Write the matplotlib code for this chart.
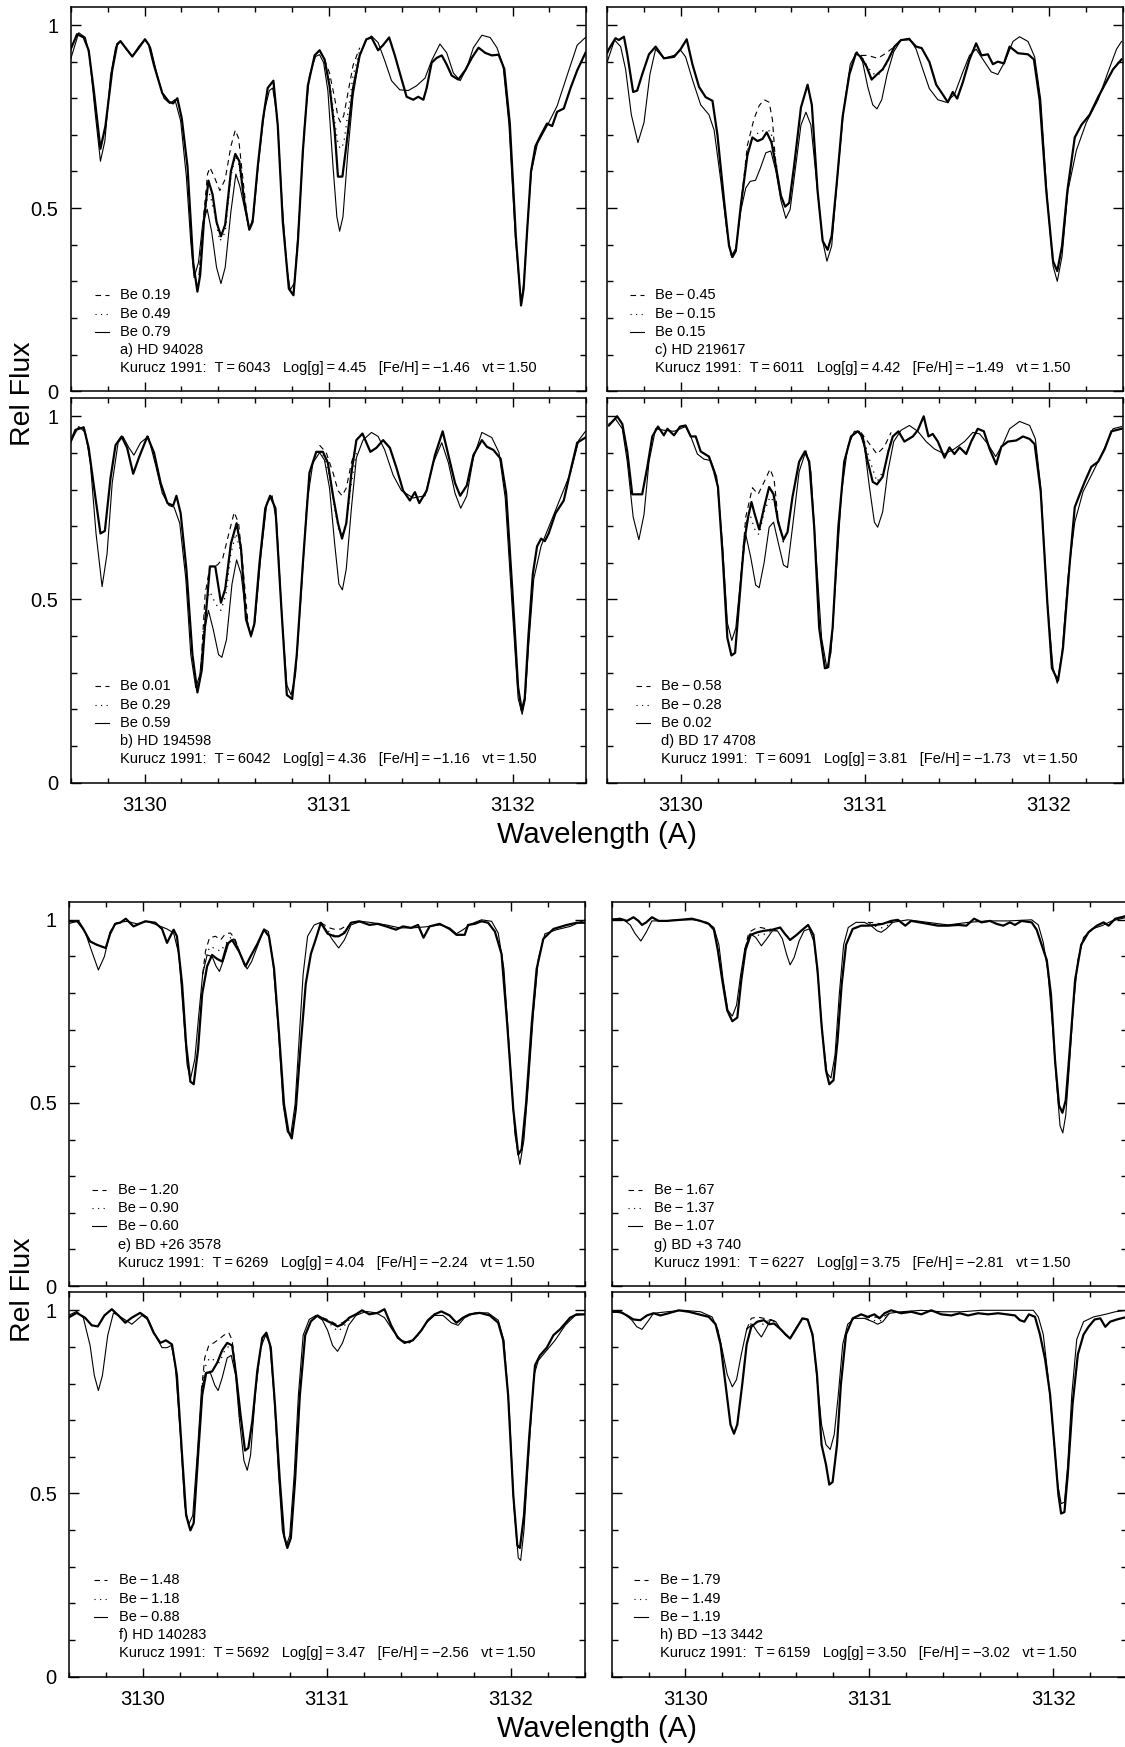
import matplotlib
matplotlib.use('Agg')
import matplotlib.pyplot as plt
from matplotlib.ticker import MultipleLocator, FixedLocator, FuncFormatter

plt.rcParams['font.family'] = ['Liberation Sans', 'DejaVu Sans']

# ---------------- data ----------------
PANELS = ['a', 'b', 'c', 'd', 'e', 'f', 'g', 'h']
STARS = {'a': 'HD 94028', 'b': 'HD 194598', 'c': 'HD 219617', 'd': 'BD 17 4708',
         'e': 'BD +26 3578', 'f': 'HD 140283', 'g': 'BD +3 740', 'h': 'BD \u221213 3442'}
BE = {'a': [0.19, 0.49, 0.79], 'b': [0.01, 0.29, 0.59], 'c': [-0.45, -0.15, 0.15],
      'd': [-0.58, -0.28, 0.02], 'e': [-1.20, -0.90, -0.60], 'f': [-1.48, -1.18, -0.88],
      'g': [-1.67, -1.37, -1.07], 'h': [-1.79, -1.49, -1.19]}
TEFF = {'a': 6043, 'b': 6042, 'c': 6011, 'd': 6091, 'e': 6269, 'f': 5692, 'g': 6227, 'h': 6159}
LOGG = {'a': 4.45, 'b': 4.36, 'c': 4.42, 'd': 3.81, 'e': 4.04, 'f': 3.47, 'g': 3.75, 'h': 3.50}
FEH = {'a': -1.46, 'b': -1.16, 'c': -1.49, 'd': -1.73, 'e': -2.24, 'f': -2.56, 'g': -2.81, 'h': -3.02}
VT = 1.50
X_TICKS = [3130, 3131, 3132]
Y_TICKS = [0, 0.5, 1]

# observed (thick) and synthetic (thin, highest Be) spectra: (wavelength, rel flux)
A_OBS = [(3129.596,0.931),(3129.633,0.975),(3129.669,0.966),(3129.696,0.931),(3129.724,0.821),(3129.760,0.662),(3129.787,0.724),(3129.824,0.876),(3129.851,0.948),(3129.869,0.956),(3129.896,0.938),(3129.933,0.914),(3129.969,0.938),(3130.002,0.961),(3130.024,0.945),(3130.051,0.890),(3130.096,0.814),(3130.133,0.790),(3130.155,0.786),(3130.178,0.800),(3130.202,0.745),(3130.233,0.614),(3130.264,0.352),(3130.287,0.272),(3130.302,0.317),(3130.324,0.476),(3130.347,0.575),(3130.369,0.538),(3130.391,0.462),(3130.415,0.423),(3130.438,0.455),(3130.469,0.600),(3130.493,0.648),(3130.515,0.628),(3130.542,0.517),(3130.569,0.441),(3130.587,0.462),(3130.615,0.614),(3130.642,0.738),(3130.669,0.828),(3130.700,0.848),(3130.724,0.724),(3130.751,0.462),(3130.784,0.280),(3130.809,0.262),(3130.833,0.407),(3130.860,0.655),(3130.887,0.834),(3130.924,0.917),(3130.951,0.931),(3130.978,0.906),(3131.005,0.834),(3131.033,0.710),(3131.051,0.586),(3131.075,0.586),(3131.096,0.669),(3131.133,0.828),(3131.169,0.917),(3131.205,0.961),(3131.233,0.966),(3131.269,0.931),(3131.296,0.945),(3131.329,0.966),(3131.360,0.917),(3131.387,0.869),(3131.424,0.804),(3131.460,0.796),(3131.487,0.804),(3131.515,0.796),(3131.533,0.828),(3131.560,0.897),(3131.587,0.910),(3131.615,0.917),(3131.642,0.892),(3131.669,0.862),(3131.705,0.851),(3131.742,0.876),(3131.778,0.910),(3131.815,0.938),(3131.851,0.924),(3131.887,0.917),(3131.924,0.919),(3131.955,0.880),(3131.985,0.730),(3132.018,0.420),(3132.046,0.234),(3132.060,0.280),(3132.078,0.430),(3132.100,0.600),(3132.124,0.669),(3132.151,0.697),(3132.187,0.731),(3132.215,0.724),(3132.242,0.763),(3132.278,0.772),(3132.315,0.828),(3132.351,0.876),(3132.396,0.924)]
A_SYN = [(3129.596,0.903),(3129.642,0.979),(3129.678,0.966),(3129.700,0.917),(3129.733,0.752),(3129.760,0.628),(3129.784,0.683),(3129.815,0.862),(3129.842,0.938),(3129.869,0.956),(3129.905,0.931),(3129.933,0.914),(3129.969,0.942),(3130.002,0.961),(3130.033,0.938),(3130.069,0.862),(3130.105,0.800),(3130.136,0.786),(3130.165,0.796),(3130.196,0.738),(3130.227,0.586),(3130.251,0.407),(3130.269,0.310),(3130.293,0.352),(3130.315,0.455),(3130.340,0.497),(3130.365,0.434),(3130.391,0.338),(3130.415,0.294),(3130.438,0.338),(3130.469,0.490),(3130.496,0.593),(3130.518,0.559),(3130.542,0.503),(3130.569,0.441),(3130.591,0.476),(3130.620,0.628),(3130.651,0.766),(3130.678,0.821),(3130.696,0.828),(3130.720,0.752),(3130.747,0.517),(3130.773,0.338),(3130.791,0.276),(3130.815,0.297),(3130.842,0.490),(3130.869,0.724),(3130.896,0.862),(3130.929,0.914),(3130.951,0.919),(3130.973,0.897),(3130.996,0.821),(3131.024,0.614),(3131.045,0.476),(3131.060,0.437),(3131.078,0.476),(3131.105,0.655),(3131.133,0.807),(3131.169,0.917),(3131.205,0.959),(3131.233,0.970),(3131.269,0.952),(3131.305,0.903),(3131.342,0.848),(3131.387,0.823),(3131.433,0.821),(3131.478,0.834),(3131.524,0.855),(3131.560,0.903),(3131.605,0.948),(3131.642,0.924),(3131.678,0.869),(3131.715,0.848),(3131.751,0.883),(3131.787,0.938),(3131.833,0.972),(3131.878,0.966),(3131.915,0.938),(3131.948,0.890),(3131.980,0.730),(3132.015,0.420),(3132.046,0.241),(3132.062,0.300),(3132.080,0.450),(3132.102,0.600),(3132.135,0.676),(3132.187,0.724),(3132.242,0.779),(3132.296,0.862),(3132.351,0.945),(3132.396,0.966)]
A_DASH1 = [(3130.296,0.317),(3130.318,0.462),(3130.342,0.593),(3130.355,0.611),(3130.378,0.586),(3130.409,0.548),(3130.438,0.579),(3130.469,0.669),(3130.493,0.713),(3130.511,0.690),(3130.533,0.586),(3130.560,0.462),(3130.569,0.441)]
A_DOT1 = [(3130.296,0.317),(3130.318,0.448),(3130.342,0.531),(3130.355,0.538),(3130.378,0.490),(3130.409,0.410),(3130.438,0.434),(3130.469,0.586),(3130.493,0.641),(3130.511,0.621),(3130.533,0.545),(3130.560,0.462),(3130.569,0.441)]
A_DASH2 = [(3130.978,0.906),(3131.005,0.869),(3131.033,0.800),(3131.051,0.749),(3131.064,0.735),(3131.082,0.752),(3131.105,0.814),(3131.133,0.890),(3131.169,0.938)]
A_DOT2 = [(3130.978,0.903),(3131.005,0.848),(3131.033,0.738),(3131.051,0.676),(3131.064,0.662),(3131.082,0.676),(3131.105,0.759),(3131.133,0.862),(3131.169,0.931)]

B_OBS = [(3129.596,0.928),(3129.624,0.963),(3129.669,0.970),(3129.696,0.914),(3129.733,0.777),(3129.760,0.680),(3129.784,0.687),(3129.815,0.832),(3129.842,0.921),(3129.875,0.945),(3129.905,0.914),(3129.938,0.843),(3129.969,0.887),(3130.015,0.945),(3130.051,0.901),(3130.087,0.818),(3130.124,0.763),(3130.155,0.756),(3130.173,0.783),(3130.196,0.735),(3130.227,0.583),(3130.260,0.349),(3130.287,0.246),(3130.311,0.308),(3130.333,0.459),(3130.355,0.590),(3130.384,0.590),(3130.415,0.491),(3130.438,0.528),(3130.469,0.652),(3130.500,0.708),(3130.524,0.639),(3130.551,0.446),(3130.578,0.401),(3130.596,0.432),(3130.624,0.597),(3130.656,0.749),(3130.682,0.783),(3130.711,0.749),(3130.742,0.487),(3130.773,0.239),(3130.802,0.228),(3130.827,0.349),(3130.860,0.597),(3130.896,0.846),(3130.933,0.903),(3130.969,0.903),(3130.996,0.873),(3131.024,0.783),(3131.051,0.708),(3131.073,0.666),(3131.096,0.708),(3131.124,0.846),(3131.151,0.935),(3131.184,0.953),(3131.227,0.903),(3131.260,0.914),(3131.296,0.935),(3131.333,0.914),(3131.369,0.859),(3131.405,0.797),(3131.442,0.770),(3131.469,0.793),(3131.493,0.763),(3131.533,0.797),(3131.578,0.894),(3131.620,0.959),(3131.651,0.894),(3131.687,0.818),(3131.715,0.783),(3131.751,0.811),(3131.787,0.894),(3131.833,0.935),(3131.860,0.917),(3131.896,0.908),(3131.935,0.884),(3131.965,0.790),(3131.998,0.530),(3132.030,0.260),(3132.050,0.197),(3132.066,0.230),(3132.086,0.400),(3132.110,0.570),(3132.133,0.645),(3132.155,0.666),(3132.175,0.659),(3132.196,0.680),(3132.233,0.735),(3132.278,0.770),(3132.315,0.852),(3132.351,0.928),(3132.396,0.942)]
B_SYN = [(3129.596,0.928),(3129.642,0.972),(3129.678,0.956),(3129.705,0.873),(3129.736,0.680),(3129.769,0.535),(3129.796,0.625),(3129.824,0.818),(3129.856,0.928),(3129.882,0.945),(3129.915,0.914),(3129.942,0.894),(3129.978,0.928),(3130.020,0.945),(3130.060,0.866),(3130.096,0.790),(3130.133,0.756),(3130.160,0.752),(3130.191,0.708),(3130.224,0.556),(3130.251,0.349),(3130.278,0.259),(3130.300,0.294),(3130.324,0.411),(3130.347,0.470),(3130.373,0.418),(3130.402,0.349),(3130.420,0.342),(3130.445,0.390),(3130.475,0.542),(3130.500,0.608),(3130.524,0.570),(3130.551,0.459),(3130.578,0.397),(3130.600,0.439),(3130.633,0.625),(3130.664,0.763),(3130.693,0.783),(3130.718,0.708),(3130.747,0.446),(3130.773,0.266),(3130.796,0.239),(3130.820,0.294),(3130.851,0.514),(3130.882,0.763),(3130.915,0.873),(3130.951,0.901),(3130.978,0.880),(3131.005,0.804),(3131.033,0.652),(3131.056,0.542),(3131.075,0.526),(3131.096,0.583),(3131.124,0.749),(3131.151,0.887),(3131.187,0.935),(3131.233,0.956),(3131.269,0.945),(3131.305,0.908),(3131.351,0.839),(3131.396,0.797),(3131.460,0.777),(3131.524,0.783),(3131.569,0.873),(3131.615,0.928),(3131.651,0.873),(3131.687,0.790),(3131.718,0.749),(3131.751,0.783),(3131.787,0.887),(3131.833,0.956),(3131.887,0.942),(3131.926,0.901),(3131.960,0.777),(3131.995,0.500),(3132.030,0.230),(3132.052,0.186),(3132.068,0.225),(3132.088,0.380),(3132.115,0.556),(3132.155,0.646),(3132.205,0.708),(3132.260,0.777),(3132.315,0.846),(3132.360,0.935),(3132.396,0.959)]
B_DASH1 = [(3130.305,0.308),(3130.329,0.514),(3130.355,0.590),(3130.396,0.594),(3130.424,0.611),(3130.451,0.666),(3130.487,0.738),(3130.511,0.708),(3130.533,0.597),(3130.560,0.446)]
B_DOT1 = [(3130.305,0.308),(3130.329,0.487),(3130.355,0.521),(3130.387,0.487),(3130.415,0.470),(3130.442,0.514),(3130.469,0.625),(3130.496,0.680),(3130.524,0.625),(3130.551,0.452)]
B_DASH2 = [(3130.951,0.921),(3130.987,0.901),(3131.024,0.846),(3131.051,0.797),(3131.073,0.783),(3131.096,0.804),(3131.124,0.873),(3131.151,0.921)]
B_DOT2 = [(3130.969,0.894),(3131.005,0.839),(3131.033,0.749),(3131.056,0.687),(3131.075,0.680),(3131.096,0.708),(3131.124,0.818),(3131.151,0.901)]

C_OBS = [(3129.600,0.925),(3129.608,0.934),(3129.644,0.964),(3129.662,0.959),(3129.690,0.968),(3129.708,0.920),(3129.740,0.817),(3129.762,0.821),(3129.789,0.865),(3129.826,0.920),(3129.862,0.941),(3129.907,0.909),(3129.962,0.913),(3129.998,0.934),(3130.031,0.961),(3130.062,0.893),(3130.098,0.831),(3130.134,0.803),(3130.171,0.793),(3130.198,0.700),(3130.234,0.521),(3130.261,0.397),(3130.279,0.366),(3130.298,0.383),(3130.325,0.507),(3130.361,0.645),(3130.388,0.693),(3130.416,0.683),(3130.443,0.689),(3130.466,0.707),(3130.492,0.679),(3130.515,0.617),(3130.543,0.534),(3130.566,0.504),(3130.588,0.514),(3130.615,0.617),(3130.652,0.775),(3130.688,0.837),(3130.711,0.782),(3130.742,0.548),(3130.770,0.410),(3130.797,0.386),(3130.819,0.424),(3130.848,0.576),(3130.878,0.748),(3130.915,0.865),(3130.951,0.923),(3130.978,0.913),(3131.009,0.886),(3131.036,0.851),(3131.065,0.865),(3131.096,0.879),(3131.127,0.906),(3131.160,0.941),(3131.196,0.959),(3131.241,0.961),(3131.278,0.941),(3131.308,0.937),(3131.350,0.899),(3131.387,0.837),(3131.423,0.810),(3131.450,0.789),(3131.477,0.817),(3131.501,0.799),(3131.532,0.844),(3131.568,0.906),(3131.604,0.950),(3131.633,0.917),(3131.668,0.920),(3131.695,0.893),(3131.722,0.900),(3131.755,0.895),(3131.786,0.941),(3131.831,0.923),(3131.886,0.920),(3131.918,0.906),(3131.949,0.796),(3131.985,0.548),(3132.022,0.355),(3132.045,0.328),(3132.071,0.397),(3132.100,0.548),(3132.140,0.693),(3132.176,0.727),(3132.221,0.755),(3132.267,0.803),(3132.303,0.837),(3132.348,0.879),(3132.394,0.906)]
C_SYN = [(3129.600,0.900),(3129.608,0.913),(3129.639,0.959),(3129.672,0.941),(3129.699,0.879),(3129.730,0.755),(3129.766,0.679),(3129.799,0.734),(3129.831,0.865),(3129.862,0.934),(3129.907,0.909),(3129.962,0.917),(3129.998,0.931),(3130.025,0.913),(3130.062,0.851),(3130.107,0.782),(3130.152,0.755),(3130.180,0.713),(3130.216,0.576),(3130.249,0.438),(3130.274,0.369),(3130.298,0.390),(3130.325,0.493),(3130.352,0.555),(3130.376,0.573),(3130.405,0.576),(3130.432,0.610),(3130.461,0.651),(3130.488,0.656),(3130.515,0.603),(3130.543,0.521),(3130.570,0.472),(3130.593,0.496),(3130.624,0.617),(3130.652,0.727),(3130.679,0.762),(3130.706,0.727),(3130.739,0.562),(3130.770,0.410),(3130.793,0.355),(3130.819,0.397),(3130.851,0.590),(3130.884,0.769),(3130.920,0.893),(3130.956,0.927),(3130.987,0.899),(3131.015,0.831),(3131.042,0.782),(3131.065,0.771),(3131.091,0.796),(3131.120,0.865),(3131.156,0.927),(3131.196,0.959),(3131.241,0.964),(3131.278,0.934),(3131.314,0.879),(3131.350,0.826),(3131.396,0.796),(3131.441,0.789),(3131.486,0.810),(3131.532,0.872),(3131.568,0.917),(3131.604,0.934),(3131.641,0.906),(3131.686,0.872),(3131.722,0.865),(3131.759,0.899),(3131.804,0.955),(3131.840,0.968),(3131.886,0.955),(3131.922,0.913),(3131.955,0.796),(3131.991,0.521),(3132.022,0.342),(3132.045,0.300),(3132.071,0.369),(3132.103,0.548),(3132.149,0.658),(3132.203,0.734),(3132.267,0.796),(3132.321,0.872),(3132.367,0.934),(3132.394,0.955)]
C_DASH1 = [(3130.325,0.507),(3130.361,0.672),(3130.397,0.744),(3130.425,0.780),(3130.452,0.796),(3130.479,0.789),(3130.497,0.741),(3130.515,0.617)]
C_DOT1 = [(3130.325,0.507),(3130.361,0.658),(3130.394,0.693),(3130.430,0.711),(3130.461,0.711),(3130.488,0.711),(3130.506,0.658),(3130.524,0.603)]
C_DASH2 = [(3130.978,0.917),(3131.015,0.917),(3131.069,0.909),(3131.114,0.923),(3131.160,0.941)]
C_DOT2 = [(3130.987,0.909),(3131.015,0.886),(3131.042,0.868),(3131.069,0.862),(3131.105,0.882),(3131.142,0.920)]

D_OBS = [(3129.608,0.975),(3129.653,1.000),(3129.681,0.979),(3129.708,0.904),(3129.735,0.787),(3129.753,0.787),(3129.789,0.787),(3129.817,0.862),(3129.844,0.945),(3129.875,0.972),(3129.907,0.948),(3129.926,0.966),(3129.962,0.948),(3129.995,0.972),(3130.025,0.975),(3130.053,0.945),(3130.080,0.945),(3130.107,0.904),(3130.152,0.890),(3130.180,0.849),(3130.201,0.807),(3130.225,0.629),(3130.252,0.395),(3130.274,0.347),(3130.294,0.354),(3130.316,0.491),(3130.343,0.656),(3130.365,0.725),(3130.383,0.766),(3130.401,0.732),(3130.425,0.691),(3130.452,0.752),(3130.479,0.807),(3130.503,0.787),(3130.528,0.711),(3130.557,0.663),(3130.579,0.684),(3130.606,0.780),(3130.642,0.876),(3130.673,0.904),(3130.697,0.876),(3130.724,0.697),(3130.751,0.422),(3130.782,0.312),(3130.800,0.315),(3130.824,0.422),(3130.855,0.697),(3130.887,0.876),(3130.924,0.945),(3130.960,0.959),(3130.987,0.945),(3131.015,0.876),(3131.042,0.821),(3131.065,0.814),(3131.096,0.835),(3131.127,0.904),(3131.151,0.945),(3131.182,0.959),(3131.214,0.931),(3131.260,0.945),(3131.287,0.962),(3131.319,1.000),(3131.345,0.945),(3131.368,0.952),(3131.396,0.931),(3131.432,0.887),(3131.459,0.915),(3131.486,0.897),(3131.514,0.915),(3131.550,0.897),(3131.577,0.931),(3131.613,0.966),(3131.646,0.959),(3131.677,0.911),(3131.713,0.869),(3131.741,0.917),(3131.777,0.931),(3131.822,0.934),(3131.859,0.945),(3131.895,0.938),(3131.922,0.924),(3131.955,0.794),(3131.991,0.491),(3132.016,0.312),(3132.049,0.278),(3132.076,0.367),(3132.113,0.601),(3132.140,0.752),(3132.167,0.787),(3132.194,0.821),(3132.230,0.862),(3132.267,0.876),(3132.303,0.911),(3132.339,0.959),(3132.394,0.966)]
D_SYN = [(3129.608,0.979),(3129.644,0.993),(3129.681,0.966),(3129.708,0.876),(3129.740,0.725),(3129.771,0.663),(3129.799,0.732),(3129.826,0.876),(3129.862,0.966),(3129.907,0.962),(3129.962,0.959),(3130.025,0.972),(3130.053,0.945),(3130.089,0.897),(3130.125,0.883),(3130.162,0.879),(3130.194,0.835),(3130.225,0.656),(3130.252,0.436),(3130.276,0.388),(3130.298,0.422),(3130.325,0.560),(3130.352,0.677),(3130.379,0.615),(3130.406,0.539),(3130.425,0.532),(3130.452,0.601),(3130.479,0.697),(3130.503,0.711),(3130.528,0.656),(3130.557,0.594),(3130.579,0.587),(3130.606,0.697),(3130.642,0.849),(3130.679,0.906),(3130.706,0.849),(3130.733,0.629),(3130.764,0.395),(3130.793,0.312),(3130.815,0.354),(3130.842,0.560),(3130.873,0.794),(3130.906,0.917),(3130.942,0.959),(3130.969,0.959),(3130.997,0.917),(3131.024,0.807),(3131.051,0.711),(3131.069,0.697),(3131.096,0.739),(3131.124,0.849),(3131.156,0.931),(3131.196,0.962),(3131.241,0.975),(3131.287,0.959),(3131.332,0.931),(3131.377,0.911),(3131.432,0.897),(3131.486,0.911),(3131.541,0.931),(3131.586,0.956),(3131.623,0.952),(3131.668,0.924),(3131.710,0.890),(3131.750,0.924),(3131.786,0.966),(3131.840,0.986),(3131.895,0.975),(3131.926,0.938),(3131.955,0.807),(3131.991,0.491),(3132.022,0.312),(3132.045,0.271),(3132.071,0.354),(3132.103,0.560),(3132.140,0.711),(3132.185,0.794),(3132.240,0.849),(3132.294,0.904),(3132.348,0.966),(3132.394,0.972)]
D_DASH1 = [(3130.325,0.560),(3130.352,0.725),(3130.388,0.805),(3130.419,0.787),(3130.452,0.821),(3130.484,0.856),(3130.506,0.828),(3130.528,0.718),(3130.557,0.656)]
D_DOT1 = [(3130.325,0.560),(3130.352,0.711),(3130.379,0.725),(3130.406,0.684),(3130.425,0.677),(3130.452,0.739),(3130.484,0.780),(3130.506,0.766),(3130.534,0.697),(3130.557,0.656)]
D_DASH2 = [(3130.978,0.956),(3131.015,0.931),(3131.065,0.897),(3131.105,0.917),(3131.142,0.956)]
D_DOT2 = [(3130.997,0.931),(3131.024,0.883),(3131.065,0.821),(3131.105,0.856),(3131.138,0.931)]

E_OBS = [(3129.595,0.996),(3129.649,0.996),(3129.676,0.975),(3129.713,0.941),(3129.749,0.932),(3129.798,0.923),(3129.822,0.962),(3129.849,0.989),(3129.876,0.992),(3129.907,1.003),(3129.949,0.982),(3130.013,0.996),(3130.067,0.992),(3130.104,0.975),(3130.131,0.937),(3130.167,0.973),(3130.185,0.955),(3130.213,0.825),(3130.235,0.660),(3130.258,0.558),(3130.276,0.551),(3130.300,0.647),(3130.322,0.797),(3130.349,0.873),(3130.376,0.904),(3130.404,0.893),(3130.431,0.886),(3130.458,0.934),(3130.485,0.945),(3130.522,0.914),(3130.558,0.873),(3130.585,0.900),(3130.622,0.934),(3130.658,0.973),(3130.685,0.955),(3130.713,0.866),(3130.740,0.688),(3130.767,0.496),(3130.791,0.421),(3130.809,0.403),(3130.831,0.482),(3130.858,0.660),(3130.885,0.825),(3130.913,0.907),(3130.940,0.948),(3130.967,0.992),(3131.004,0.962),(3131.040,0.955),(3131.064,0.955),(3131.095,0.964),(3131.131,0.992),(3131.176,0.996),(3131.231,0.986),(3131.276,0.989),(3131.322,0.982),(3131.376,0.973),(3131.413,0.982),(3131.458,0.978),(3131.495,0.986),(3131.525,0.951),(3131.558,0.982),(3131.613,0.989),(3131.667,0.975),(3131.704,0.959),(3131.749,0.959),(3131.767,0.986),(3131.804,0.989),(3131.840,0.996),(3131.876,0.992),(3131.913,0.968),(3131.949,0.907),(3131.980,0.715),(3132.013,0.482),(3132.040,0.359),(3132.058,0.373),(3132.082,0.496),(3132.113,0.715),(3132.140,0.866),(3132.176,0.948),(3132.231,0.975),(3132.304,0.986),(3132.358,0.992),(3132.404,0.992)]
E_SYN = [(3129.595,0.989),(3129.640,0.996),(3129.685,0.968),(3129.722,0.914),(3129.758,0.863),(3129.791,0.900),(3129.822,0.968),(3129.858,0.992),(3129.913,0.996),(3129.967,0.989),(3130.022,0.996),(3130.076,0.986),(3130.131,0.975),(3130.167,0.964),(3130.195,0.907),(3130.216,0.770),(3130.240,0.605),(3130.258,0.564),(3130.282,0.619),(3130.304,0.742),(3130.325,0.852),(3130.349,0.904),(3130.376,0.900),(3130.398,0.873),(3130.416,0.859),(3130.440,0.893),(3130.467,0.937),(3130.495,0.948),(3130.522,0.918),(3130.549,0.879),(3130.567,0.866),(3130.591,0.886),(3130.622,0.927),(3130.658,0.975),(3130.682,0.968),(3130.707,0.886),(3130.736,0.701),(3130.762,0.496),(3130.785,0.421),(3130.804,0.414),(3130.827,0.496),(3130.849,0.674),(3130.871,0.852),(3130.895,0.955),(3130.931,0.986),(3130.962,0.992),(3130.995,0.973),(3131.031,0.945),(3131.064,0.923),(3131.095,0.945),(3131.131,0.986),(3131.185,0.996),(3131.249,0.992),(3131.322,0.986),(3131.395,0.978),(3131.467,0.978),(3131.540,0.981),(3131.613,0.986),(3131.667,0.978),(3131.704,0.962),(3131.740,0.973),(3131.785,0.989),(3131.840,1.000),(3131.895,0.996),(3131.931,0.964),(3131.962,0.866),(3131.995,0.619),(3132.022,0.414),(3132.049,0.332),(3132.071,0.400),(3132.095,0.551),(3132.122,0.742),(3132.149,0.893),(3132.185,0.962),(3132.249,0.973),(3132.322,0.982),(3132.404,1.000)]
E_DASH1 = [(3130.325,0.852),(3130.340,0.914),(3130.362,0.951),(3130.395,0.955),(3130.422,0.945),(3130.449,0.962),(3130.476,0.964),(3130.500,0.948),(3130.522,0.918)]
E_DOT1 = [(3130.325,0.852),(3130.344,0.907),(3130.367,0.927),(3130.395,0.921),(3130.422,0.914),(3130.449,0.934),(3130.476,0.951),(3130.500,0.945),(3130.522,0.918)]
E_DASH2 = [(3130.967,0.992),(3131.013,0.978),(3131.049,0.973),(3131.076,0.975),(3131.113,0.986)]
E_DOT2 = [(3130.985,0.982),(3131.022,0.962),(3131.058,0.953),(3131.085,0.962),(3131.122,0.986)]

F_OBS = [(3129.595,0.980),(3129.640,0.993),(3129.685,0.980),(3129.722,0.959),(3129.755,0.956),(3129.791,0.986),(3129.831,1.003),(3129.867,0.986),(3129.904,0.966),(3129.940,0.980),(3129.985,0.993),(3130.022,0.980),(3130.058,0.939),(3130.095,0.911),(3130.125,0.918),(3130.158,0.907),(3130.185,0.822),(3130.213,0.604),(3130.235,0.440),(3130.258,0.399),(3130.276,0.419),(3130.300,0.604),(3130.322,0.768),(3130.344,0.829),(3130.376,0.833),(3130.404,0.857),(3130.431,0.891),(3130.458,0.911),(3130.485,0.904),(3130.507,0.822),(3130.531,0.713),(3130.555,0.617),(3130.573,0.624),(3130.595,0.699),(3130.622,0.836),(3130.649,0.925),(3130.671,0.939),(3130.695,0.898),(3130.718,0.740),(3130.744,0.536),(3130.767,0.385),(3130.785,0.351),(3130.804,0.378),(3130.827,0.536),(3130.853,0.768),(3130.882,0.932),(3130.913,0.970),(3130.949,0.986),(3130.985,0.975),(3131.022,0.966),(3131.058,0.956),(3131.085,0.962),(3131.122,0.980),(3131.158,0.989),(3131.191,1.000),(3131.231,0.989),(3131.276,0.993),(3131.313,1.003),(3131.349,0.959),(3131.385,0.925),(3131.422,0.911),(3131.467,0.918),(3131.513,0.945),(3131.549,0.973),(3131.585,0.989),(3131.622,0.997),(3131.667,0.986),(3131.704,0.966),(3131.740,0.980),(3131.776,0.989),(3131.831,0.993),(3131.885,0.986),(3131.931,0.966),(3131.958,0.918),(3131.985,0.768),(3132.013,0.495),(3132.035,0.358),(3132.049,0.351),(3132.071,0.440),(3132.100,0.658),(3132.131,0.850),(3132.158,0.877),(3132.195,0.898),(3132.231,0.932),(3132.267,0.948),(3132.322,0.980),(3132.358,0.989),(3132.404,0.989)]
F_SYN = [(3129.595,0.986),(3129.640,0.997),(3129.676,0.980),(3129.713,0.904),(3129.736,0.822),(3129.758,0.781),(3129.780,0.822),(3129.809,0.932),(3129.840,0.993),(3129.885,0.980),(3129.940,0.962),(3129.995,0.986),(3130.031,0.973),(3130.067,0.932),(3130.104,0.898),(3130.131,0.898),(3130.155,0.904),(3130.176,0.850),(3130.204,0.658),(3130.227,0.467),(3130.249,0.415),(3130.271,0.440),(3130.295,0.604),(3130.318,0.781),(3130.340,0.829),(3130.367,0.829),(3130.391,0.795),(3130.409,0.781),(3130.431,0.816),(3130.458,0.870),(3130.480,0.877),(3130.504,0.822),(3130.525,0.699),(3130.549,0.590),(3130.567,0.563),(3130.585,0.604),(3130.613,0.781),(3130.640,0.898),(3130.667,0.932),(3130.689,0.911),(3130.713,0.768),(3130.736,0.563),(3130.758,0.399),(3130.780,0.358),(3130.798,0.385),(3130.822,0.549),(3130.845,0.768),(3130.871,0.932),(3130.904,0.975),(3130.940,0.986),(3130.976,0.973),(3131.004,0.945),(3131.031,0.904),(3131.058,0.888),(3131.085,0.911),(3131.118,0.959),(3131.158,0.986),(3131.213,0.997),(3131.267,0.993),(3131.313,0.980),(3131.358,0.945),(3131.404,0.918),(3131.449,0.911),(3131.495,0.932),(3131.540,0.966),(3131.585,0.986),(3131.631,0.986),(3131.676,0.966),(3131.713,0.959),(3131.749,0.980),(3131.804,0.993),(3131.876,0.993),(3131.931,0.973),(3131.962,0.918),(3131.991,0.727),(3132.016,0.467),(3132.040,0.324),(3132.053,0.317),(3132.071,0.399),(3132.100,0.631),(3132.125,0.822),(3132.149,0.863),(3132.195,0.891),(3132.240,0.918),(3132.295,0.959),(3132.349,0.986),(3132.404,0.989)]
F_DASH1 = [(3130.318,0.781),(3130.336,0.870),(3130.358,0.904),(3130.385,0.911),(3130.413,0.921),(3130.440,0.932),(3130.467,0.939),(3130.485,0.918),(3130.504,0.836),(3130.525,0.713)]
F_DOT1 = [(3130.318,0.781),(3130.336,0.843),(3130.362,0.870),(3130.391,0.863),(3130.416,0.857),(3130.445,0.891),(3130.471,0.904),(3130.489,0.898),(3130.507,0.829),(3130.525,0.706)]
F_DASH2 = [(3130.976,0.980),(3131.013,0.973),(3131.049,0.962),(3131.085,0.966),(3131.122,0.980)]
F_DOT2 = [(3130.995,0.973),(3131.031,0.956),(3131.058,0.943),(3131.085,0.952),(3131.122,0.975)]

G_OBS = [(3129.600,1.000),(3129.645,1.003),(3129.682,0.997),(3129.718,1.007),(3129.745,0.997),(3129.764,0.986),(3129.787,0.993),(3129.818,1.007),(3129.855,0.997),(3129.900,0.997),(3129.973,1.000),(3130.036,1.003),(3130.082,0.997),(3130.127,0.989),(3130.155,0.973),(3130.176,0.918),(3130.200,0.836),(3130.227,0.753),(3130.255,0.723),(3130.282,0.733),(3130.304,0.836),(3130.327,0.918),(3130.355,0.959),(3130.391,0.966),(3130.427,0.970),(3130.473,0.973),(3130.515,0.979),(3130.540,0.962),(3130.569,0.945),(3130.605,0.959),(3130.636,0.973),(3130.667,0.986),(3130.696,0.959),(3130.718,0.863),(3130.740,0.712),(3130.764,0.589),(3130.782,0.551),(3130.805,0.562),(3130.827,0.671),(3130.849,0.822),(3130.873,0.932),(3130.909,0.975),(3130.955,0.984),(3130.991,0.984),(3131.036,0.986),(3131.073,0.989),(3131.118,0.997),(3131.155,1.000),(3131.195,0.984),(3131.227,0.997),(3131.273,0.993),(3131.318,0.989),(3131.373,0.984),(3131.427,0.984),(3131.482,0.986),(3131.527,0.984),(3131.569,1.003),(3131.609,0.993),(3131.655,0.997),(3131.691,0.989),(3131.727,0.984),(3131.764,0.993),(3131.791,0.986),(3131.827,0.997),(3131.882,0.993),(3131.909,0.973),(3131.936,0.932),(3131.964,0.890),(3131.987,0.795),(3132.009,0.616),(3132.031,0.493),(3132.049,0.473),(3132.067,0.507),(3132.091,0.658),(3132.118,0.836),(3132.151,0.932),(3132.191,0.966),(3132.236,0.984),(3132.273,0.993),(3132.300,0.984),(3132.336,1.003),(3132.400,1.011)]
G_SYN = [(3129.600,1.003),(3129.664,1.000),(3129.700,0.986),(3129.727,0.962),(3129.758,0.942),(3129.787,0.966),(3129.818,0.997),(3129.873,0.997),(3129.973,1.000),(3130.045,1.000),(3130.118,0.993),(3130.155,0.979),(3130.182,0.932),(3130.205,0.836),(3130.231,0.753),(3130.255,0.737),(3130.278,0.767),(3130.300,0.849),(3130.322,0.918),(3130.351,0.962),(3130.382,0.952),(3130.413,0.929),(3130.442,0.948),(3130.473,0.970),(3130.500,0.970),(3130.527,0.948),(3130.551,0.904),(3130.569,0.877),(3130.591,0.897),(3130.618,0.942),(3130.645,0.970),(3130.673,0.975),(3130.700,0.938),(3130.722,0.836),(3130.745,0.685),(3130.769,0.582),(3130.791,0.568),(3130.813,0.630),(3130.836,0.795),(3130.860,0.932),(3130.885,0.979),(3130.927,0.993),(3130.973,0.993),(3131.009,0.984),(3131.042,0.970),(3131.064,0.966),(3131.091,0.975),(3131.127,0.993),(3131.209,1.000),(3131.318,0.993),(3131.427,0.986),(3131.536,0.993),(3131.645,0.997),(3131.755,0.997),(3131.882,1.000),(3131.918,0.986),(3131.945,0.938),(3131.969,0.863),(3131.995,0.712),(3132.018,0.548),(3132.036,0.438),(3132.051,0.418),(3132.067,0.466),(3132.085,0.589),(3132.109,0.767),(3132.133,0.890),(3132.164,0.952),(3132.209,0.975),(3132.264,0.984),(3132.318,0.997),(3132.400,1.007)]
G_DASH1 = [(3130.322,0.918),(3130.345,0.966),(3130.376,0.975),(3130.409,0.979),(3130.445,0.975),(3130.478,0.973),(3130.500,0.970)]
G_DOT1 = [(3130.322,0.918),(3130.345,0.959),(3130.376,0.962),(3130.409,0.956),(3130.442,0.964),(3130.473,0.970),(3130.500,0.970)]
G_DASH2 = [(3130.991,0.993),(3131.027,0.992),(3131.064,0.989),(3131.100,0.992),(3131.127,0.993)]
G_DOT2 = [(3131.000,0.990),(3131.036,0.982),(3131.064,0.978),(3131.096,0.984),(3131.127,0.993)]

H_OBS = [(3129.600,0.996),(3129.645,0.996),(3129.682,0.986),(3129.718,0.975),(3129.755,0.973),(3129.791,0.986),(3129.827,0.992),(3129.864,0.986),(3129.909,0.992),(3129.964,1.000),(3130.018,0.996),(3130.073,0.989),(3130.127,0.982),(3130.164,0.962),(3130.191,0.907),(3130.218,0.798),(3130.245,0.688),(3130.264,0.663),(3130.282,0.688),(3130.309,0.798),(3130.333,0.907),(3130.358,0.955),(3130.391,0.969),(3130.427,0.973),(3130.455,0.962),(3130.482,0.964),(3130.518,0.948),(3130.545,0.934),(3130.569,0.923),(3130.600,0.948),(3130.636,0.978),(3130.664,0.975),(3130.691,0.934),(3130.715,0.825),(3130.740,0.633),(3130.764,0.579),(3130.782,0.524),(3130.800,0.531),(3130.824,0.633),(3130.845,0.798),(3130.873,0.934),(3130.909,0.978),(3130.955,0.989),(3130.991,0.982),(3131.027,0.989),(3131.055,0.978),(3131.082,0.992),(3131.118,1.000),(3131.173,0.992),(3131.227,0.996),(3131.282,0.989),(3131.336,1.000),(3131.391,0.989),(3131.445,0.986),(3131.491,0.992),(3131.536,0.986),(3131.591,0.992),(3131.645,0.989),(3131.700,0.992),(3131.745,0.989),(3131.791,0.986),(3131.818,0.973),(3131.842,0.969),(3131.867,0.989),(3131.900,0.982),(3131.927,0.934),(3131.955,0.866),(3131.982,0.770),(3132.005,0.633),(3132.027,0.497),(3132.042,0.445),(3132.060,0.449),(3132.078,0.551),(3132.104,0.743),(3132.133,0.880),(3132.164,0.934),(3132.191,0.955),(3132.224,0.975),(3132.255,0.978),(3132.282,0.955),(3132.309,0.969),(3132.345,0.975),(3132.400,0.982)]
H_SYN = [(3129.600,0.996),(3129.664,0.992),(3129.709,0.973),(3129.736,0.955),(3129.764,0.948),(3129.795,0.969),(3129.827,0.992),(3129.900,0.996),(3129.991,1.000),(3130.082,0.996),(3130.145,0.982),(3130.176,0.948),(3130.200,0.893),(3130.227,0.825),(3130.255,0.791),(3130.278,0.811),(3130.304,0.880),(3130.333,0.948),(3130.364,0.962),(3130.391,0.941),(3130.413,0.927),(3130.436,0.948),(3130.464,0.975),(3130.491,0.969),(3130.518,0.948),(3130.545,0.932),(3130.569,0.923),(3130.600,0.951),(3130.636,0.978),(3130.667,0.973),(3130.695,0.921),(3130.718,0.798),(3130.740,0.688),(3130.764,0.633),(3130.787,0.620),(3130.809,0.661),(3130.831,0.770),(3130.855,0.907),(3130.882,0.962),(3130.918,0.978),(3130.973,0.978),(3131.018,0.969),(3131.045,0.962),(3131.073,0.969),(3131.109,0.992),(3131.173,0.996),(3131.282,1.000),(3131.391,0.996),(3131.500,0.996),(3131.609,1.000),(3131.718,1.000),(3131.827,1.000),(3131.891,1.000),(3131.918,0.982),(3131.945,0.934),(3131.973,0.811),(3132.000,0.661),(3132.024,0.524),(3132.042,0.472),(3132.060,0.476),(3132.078,0.579),(3132.100,0.770),(3132.127,0.921),(3132.164,0.969),(3132.218,0.982),(3132.282,0.989),(3132.336,0.996),(3132.400,1.000)]
H_DASH1 = [(3130.333,0.948),(3130.358,0.978),(3130.391,0.982),(3130.427,0.978),(3130.464,0.973),(3130.491,0.969)]
H_DOT1 = [(3130.333,0.948),(3130.358,0.964),(3130.391,0.967),(3130.424,0.962),(3130.455,0.973),(3130.491,0.969)]
H_DASH2 = [(3130.973,0.978),(3131.018,0.982),(3131.045,0.981),(3131.073,0.982),(3131.109,0.992)]
H_DOT2 = [(3130.991,0.975),(3131.018,0.973),(3131.045,0.970),(3131.073,0.973),(3131.109,0.989)]

SPECTRA = {
    'a': (A_OBS, A_SYN, A_DASH1, A_DASH2, A_DOT1, A_DOT2),
    'b': (B_OBS, B_SYN, B_DASH1, B_DASH2, B_DOT1, B_DOT2),
    'c': (C_OBS, C_SYN, C_DASH1, C_DASH2, C_DOT1, C_DOT2),
    'd': (D_OBS, D_SYN, D_DASH1, D_DASH2, D_DOT1, D_DOT2),
    'e': (E_OBS, E_SYN, E_DASH1, E_DASH2, E_DOT1, E_DOT2),
    'f': (F_OBS, F_SYN, F_DASH1, F_DASH2, F_DOT1, F_DOT2),
    'g': (G_OBS, G_SYN, G_DASH1, G_DASH2, G_DOT1, G_DOT2),
    'h': (H_OBS, H_SYN, H_DASH1, H_DASH2, H_DOT1, H_DOT2),
}

# ---------------- layout (pixels) ----------------
FIG_W, FIG_H = 1125, 1747
PW, PH = 515.2, 384.5
BOX = {'a': (71.0, 6.7), 'b': (71.0, 398.0), 'c': (607.4, 6.7), 'd': (607.4, 398.0),
       'e': (69.3, 901.5), 'f': (69.3, 1292.0), 'g': (611.8, 901.5), 'h': (611.8, 1292.0)}
LEG_X = {'a': 0.096, 'b': 0.096, 'c': 0.093, 'd': 0.105, 'e': 0.094, 'f': 0.096, 'g': 0.081, 'h': 0.093}
ROW_Y = [0.250, 0.202, 0.155, 0.107, 0.060]
BOTTOM = {'b', 'd', 'f', 'h'}
LEFT = {'a', 'b', 'e', 'f'}

TS = '\u2009'
MINUS = '\u2212'


def be_label(v):
    if v < 0:
        return f'Be{TS}{MINUS}{TS}{abs(v):.2f}'
    return f'Be {v:.2f}'


def fmt_num(v):
    s = f'{v:.2f}'
    return s.replace('-', MINUS)


fig = plt.figure(figsize=(FIG_W / 100, FIG_H / 100), dpi=100)

for key in PANELS:
    l, t = BOX[key]
    ax = fig.add_axes([l / FIG_W, 1 - (t + PH) / FIG_H, PW / FIG_W, PH / FIG_H])
    obs, syn, d1, d2, o1, o2 = SPECTRA[key]
    for seg in (d1, d2):
        ax.plot([p[0] for p in seg], [p[1] for p in seg], color='black', lw=0.8,
                linestyle=(0, (5, 4)))
    for seg in (o1, o2):
        ax.plot([p[0] for p in seg], [p[1] for p in seg], color='black', lw=0.9,
                linestyle=(0, (1, 4)))
    ax.plot([p[0] for p in syn], [p[1] for p in syn], color='black', lw=0.8)
    ax.plot([p[0] for p in obs], [p[1] for p in obs], color='black', lw=1.6)

    ax.set_xlim(3129.6, 3132.4)
    ax.set_ylim(0, 1.05)
    ax.xaxis.set_major_locator(FixedLocator(X_TICKS))
    ax.xaxis.set_minor_locator(MultipleLocator(0.2))
    ax.yaxis.set_major_locator(FixedLocator(Y_TICKS))
    ax.yaxis.set_minor_locator(MultipleLocator(0.1))
    ax.xaxis.set_major_formatter(FuncFormatter(lambda v, p: f'{v:.0f}'))
    ax.yaxis.set_major_formatter(FuncFormatter(lambda v, p: f'{v:g}'))
    ax.tick_params(which='both', direction='in', top=True, right=True, width=1.0,
                   labelsize=14.5, labelbottom=key in BOTTOM, labelleft=key in LEFT)
    ax.tick_params(axis='x', which='major', length=6.2, pad=10)
    ax.tick_params(axis='x', which='minor', length=3.6)
    ax.tick_params(axis='y', which='major', length=7.5, pad=9)
    ax.tick_params(axis='y', which='minor', length=4.3)
    for sp in ax.spines.values():
        sp.set_linewidth(1.1)

    # legend-like annotations
    lx = LEG_X[key]
    styles = [(0, (5, 4)), (0, (1, 4)), '-']
    for i, (v, ls) in enumerate(zip(BE[key], styles)):
        y = ROW_Y[i]
        ax.plot([lx - 0.049, lx - 0.022], [y, y], transform=ax.transAxes, color='black',
                lw=0.8, linestyle=ls, clip_on=False)
        ax.text(lx, y, be_label(v), transform=ax.transAxes, fontsize=10.5,
                va='center', ha='left')
    ax.text(lx, ROW_Y[3], f'{key}) {STARS[key]}', transform=ax.transAxes, fontsize=10.5,
            va='center', ha='left')
    kur = (f'Kurucz 1991:  T{TS}={TS}{TEFF[key]}   Log[g]{TS}={TS}{LOGG[key]:.2f}   '
           f'[Fe/H]{TS}={TS}{fmt_num(FEH[key])}   vt{TS}={TS}{VT:.2f}')
    ax.text(lx, ROW_Y[4], kur, transform=ax.transAxes, fontsize=10.5, va='center', ha='left')

# axis titles
fig.text(23 / FIG_W, 1 - 394 / FIG_H, 'Rel Flux', rotation=90, fontsize=20.5,
         ha='center', va='center')
fig.text(23 / FIG_W, 1 - 1290 / FIG_H, 'Rel Flux', rotation=90, fontsize=20.5,
         ha='center', va='center')
fig.text(597 / FIG_W, 1 - 835 / FIG_H, 'Wavelength (A)', fontsize=21, ha='center', va='center')
fig.text(597 / FIG_W, 1 - 1729 / FIG_H, 'Wavelength (A)', fontsize=21, ha='center', va='center')

fig.savefig('out.png', dpi=100)
